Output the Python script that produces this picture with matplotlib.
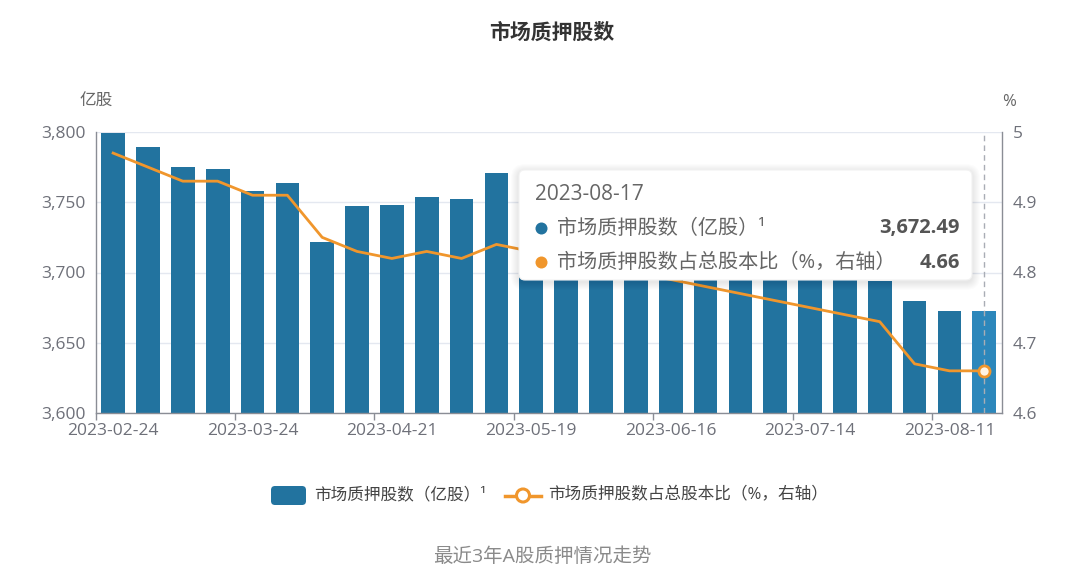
import matplotlib
matplotlib.use("Agg")
import matplotlib.pyplot as plt
from matplotlib.patches import FancyBboxPatch, Circle
import numpy as np

plt.rcParams["font.family"] = ["Open Sans", "Noto Sans CJK SC", "DejaVu Sans"]

# Weekly observation dates
dates = [
    "2023-02-24", "2023-03-03", "2023-03-10", "2023-03-17", "2023-03-24",
    "2023-03-31", "2023-04-07", "2023-04-14", "2023-04-21", "2023-04-28",
    "2023-05-05", "2023-05-12", "2023-05-19", "2023-05-26", "2023-06-02",
    "2023-06-09", "2023-06-16", "2023-06-23", "2023-06-30", "2023-07-07",
    "2023-07-14", "2023-07-21", "2023-07-28", "2023-08-04", "2023-08-11",
    "2023-08-17",
]

# Pledged shares (100 million shares)
pledged_shares = [
    3799, 3789, 3775, 3774, 3758, 3764, 3722, 3747, 3748, 3754,
    3752, 3771, 3745, 3735, 3728, 3722, 3716, 3711, 3707, 3703,
    3700, 3697, 3694, 3680, 3672.8, 3672.49,
]

# Pledged shares as % of total share capital (right axis)
pledge_ratio = [
    4.97, 4.95, 4.93, 4.93, 4.91, 4.91, 4.85, 4.83, 4.82, 4.83,
    4.82, 4.84, 4.83, 4.82, 4.81, 4.80, 4.79, 4.78, 4.77, 4.76,
    4.75, 4.74, 4.73, 4.67, 4.66, 4.66,
]

left_ticks = [3600, 3650, 3700, 3750, 3800]
right_ticks = [4.6, 4.7, 4.8, 4.9, 5.0]
right_tick_labels = ["4.6", "4.7", "4.8", "4.9", "5"]

series_bar = "市场质押股数（亿股）¹"
series_line = "市场质押股数占总股本比（%，右轴）"

BAR = "#22739f"
BAR_HI = "#2c87bb"
LINE = "#f0962c"
TICK = "#6e7079"

W, H = 1079, 571
fig = plt.figure(figsize=(W / 100, H / 100), dpi=100)


def fx(px):
    return px / W


def fy(py):
    return 1 - py / H


x0, x1, ytop, ybot = 95.7, 1001.7, 132, 413
ax = fig.add_axes([fx(x0), fy(ybot), fx(x1) - fx(x0), fy(ytop) - fy(ybot)])
n = len(dates)
x = np.arange(n)
colors = [BAR] * (n - 1) + [BAR_HI]
ax.bar(x, pledged_shares, width=0.68, color=colors, zorder=2)
ax.set_xlim(-0.5, n - 0.5)
ax.set_ylim(left_ticks[0], left_ticks[-1])
ax.set_yticks(left_ticks)
ax.set_yticklabels([f"{v:,}" for v in left_ticks])
ax.grid(axis="y", color="#e4e8f0", lw=1, zorder=0)
ax.tick_params(axis="y", length=0, pad=7, labelsize=12.5, labelcolor=TICK)

ax.set_xticks(np.arange(-0.5, n - 1, 4))
ax.set_xticklabels([])
ax.tick_params(axis="x", which="major", length=5, width=1, color="#8a8d95")
ax.set_xticks(x[::4], minor=True)
ax.set_xticklabels(dates[::4], minor=True)
ax.tick_params(axis="x", which="minor", length=0, pad=7, labelsize=12.5, labelcolor=TICK)

for s in ("top", "right"):
    ax.spines[s].set_visible(False)
for s in ("left", "bottom"):
    ax.spines[s].set_color("#8a8d95")
    ax.spines[s].set_linewidth(1)

ax.axvline(n - 1, color="#a9adb5", ls=(0, (4, 3)), lw=1, zorder=3)

ax2 = ax.twinx()
ax2.plot(x, pledge_ratio, color=LINE, lw=2, zorder=4, solid_joinstyle="round")
ax2.plot([x[-1]], [pledge_ratio[-1]], "o", ms=8, mfc="#fff3e3", mec=LINE, mew=2, zorder=5)
ax2.set_ylim(right_ticks[0], right_ticks[-1])
ax2.set_yticks(right_ticks)
ax2.set_yticklabels(right_tick_labels)
ax2.tick_params(axis="y", length=0, pad=8, labelsize=12.5, labelcolor=TICK)
for s in ("top", "left", "bottom"):
    ax2.spines[s].set_visible(False)
ax2.spines["right"].set_color("#8a8d95")
ax2.spines["right"].set_linewidth(1)

# Overlay in pixel coordinates for title, legend, caption and tooltip
ov = fig.add_axes([0, 0, 1, 1], zorder=10)
ov.set_xlim(0, W)
ov.set_ylim(H, 0)
ov.axis("off")
ov.patch.set_alpha(0)

ov.text(552, 33, "市场质押股数", ha="center", va="center", fontsize=15,
        fontweight="bold", color="#333333")
ov.text(96.5, 102, "亿股", ha="center", va="center", fontsize=12, color="#666666")
ov.text(1009, 102, "%", ha="center", va="center", fontsize=12, color="#666666")

# Legend
ov.add_patch(FancyBboxPatch((271, 486), 35, 19, boxstyle="round,pad=0,rounding_size=4",
                            fc=BAR, ec="none"))
ov.text(314, 495.5, series_bar, ha="left", va="center", fontsize=12, color="#444444")
ov.plot([505, 541], [495.5, 495.5], color=LINE, lw=2.5)
ov.add_patch(Circle((523, 495.5), 6.5, fc="white", ec=LINE, lw=2.2, zorder=3))
ov.text(548, 495.5, series_line, ha="left", va="center", fontsize=12, color="#444444")

ov.text(542, 557, "最近3年A股质押情况走势", ha="center", va="center", fontsize=14,
        color="#8a8a8a")

# Tooltip with soft shadow
bx, by, bw, bh = 519, 170, 453, 110
for i in range(8, 0, -1):
    ov.add_patch(FancyBboxPatch((bx - i, by - i + 2), bw + 2 * i, bh + 2 * i,
                                boxstyle=f"round,pad=0,rounding_size={6 + i}",
                                fc="black", ec="none", alpha=0.012, zorder=6))
ov.add_patch(FancyBboxPatch((bx, by), bw, bh, boxstyle="round,pad=0,rounding_size=6",
                            fc="white", ec="#f2f2f2", lw=0.8, zorder=7))
ov.text(535, 194, dates[-1], ha="left", va="center", fontsize=15, color="#666666", zorder=8)
ov.add_patch(Circle((541.5, 228.5), 6, fc=BAR, ec="none", zorder=8))
ov.text(557, 228.5, series_bar, ha="left", va="center", fontsize=14.5,
        color="#666666", zorder=8)
ov.text(960, 228.5, f"{pledged_shares[-1]:,.2f}", ha="right", va="center", fontsize=14.5,
        fontweight="bold", color="#555555", zorder=8)
ov.add_patch(Circle((541.5, 262.5), 6, fc=LINE, ec="none", zorder=8))
ov.text(557, 262.5, series_line, ha="left", va="center", fontsize=14.5,
        color="#666666", zorder=8)
ov.text(960, 262.5, f"{pledge_ratio[-1]:.2f}", ha="right", va="center", fontsize=14.5,
        fontweight="bold", color="#555555", zorder=8)

fig.savefig("out.png", dpi=100, facecolor="white")
